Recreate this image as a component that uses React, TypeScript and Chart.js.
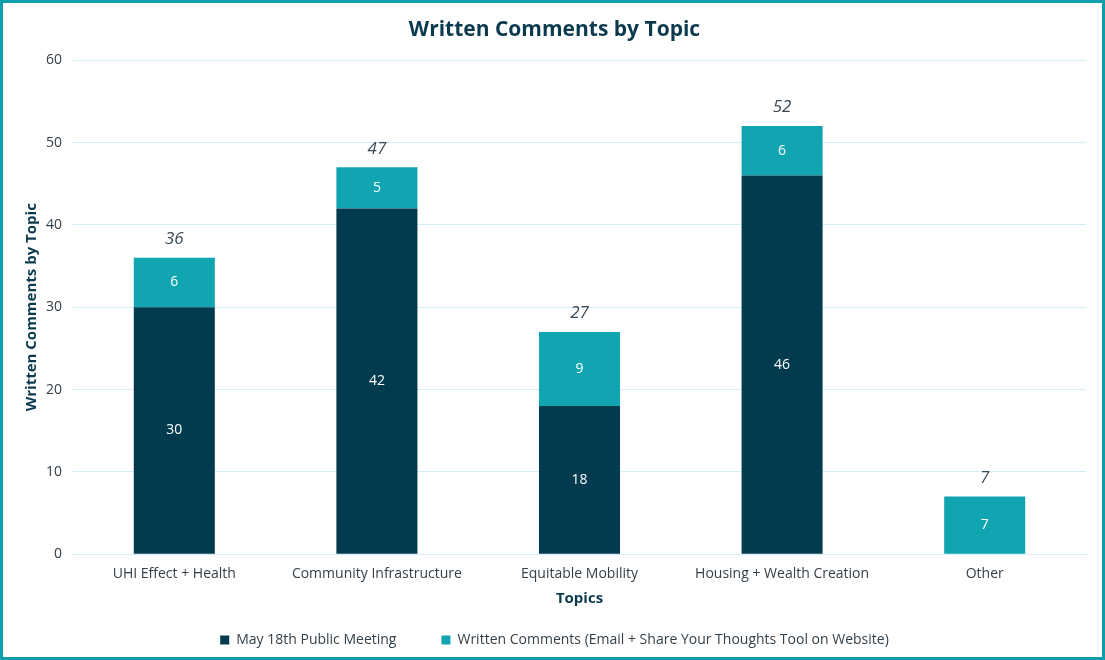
import React, { useEffect, useRef } from "react";
import { Chart, registerables } from "chart.js";

Chart.register(...registerables);

const categories = [
  "UHI Effect + Health",
  "Community Infrastructure",
  "Equitable Mobility",
  "Housing + Wealth Creation",
  "Other",
];
const meetingValues = [30, 42, 18, 46, 0];
const writtenValues = [6, 5, 9, 6, 7];
const totals = [36, 47, 27, 52, 7];
const yTicks = [0, 10, 20, 30, 40, 50, 60];

const DARK = "#023b4f";
const TEAL = "#11a4b1";
const FONT = "'Open Sans', sans-serif";
const LEGEND_SHRINK = 20;

const labelPlugin = {
  id: "barLabels",
  afterInit(chart: any) {
    const lg = chart.legend;
    if (!lg) return;
    const origFit = lg.fit.bind(lg);
    lg.fit = function () {
      origFit();
      this.height -= LEGEND_SHRINK;
    };
    const origDraw = lg.draw.bind(lg);
    lg.draw = function () {
      this.top -= LEGEND_SHRINK;
      origDraw();
      this.top += LEGEND_SHRINK;
    };
  },
  afterDatasetsDraw(chart: any) {
    const ctx = chart.ctx;
    ctx.save();
    ctx.textAlign = "center";
    ctx.textBaseline = "middle";
    chart.data.datasets.forEach((ds: any, di: number) => {
      const meta = chart.getDatasetMeta(di);
      meta.data.forEach((bar: any, i: number) => {
        const v = ds.data[i];
        if (!v) return;
        ctx.fillStyle = "#ffffff";
        ctx.font = `14px ${FONT}`;
        ctx.fillText(String(v), bar.x, (bar.y + bar.base) / 2);
      });
    });
    const yScale = chart.scales.y;
    const xScale = chart.scales.x;
    ctx.fillStyle = "#3a4a56";
    ctx.font = `italic 17px ${FONT}`;
    ctx.textBaseline = "bottom";
    totals.forEach((t, i) => {
      const x = xScale.getPixelForValue(i);
      const y = yScale.getPixelForValue(t);
      ctx.fillText(String(t), x, y - 10);
    });
    ctx.restore();
  },
};

export default function App() {
  const ref = useRef<HTMLCanvasElement | null>(null);
  useEffect(() => {
    if (!ref.current) return;
    const chart = new Chart(ref.current, {
      type: "bar",
      data: {
        labels: categories,
        datasets: [
          {
            label: "May 18th Public Meeting",
            data: meetingValues,
            backgroundColor: DARK,
            categoryPercentage: 0.8,
            barPercentage: 0.5,
          },
          {
            label: "Written Comments (Email + Share Your Thoughts Tool on Website)",
            data: writtenValues,
            backgroundColor: TEAL,
            categoryPercentage: 0.8,
            barPercentage: 0.5,
          },
        ],
      },
      options: {
        animation: false,
        responsive: false,
        maintainAspectRatio: false,
        layout: { padding: { left: 20, right: 16, top: 6, bottom: 0 } },
        plugins: {
          title: {
            display: true,
            text: "Written Comments by Topic",
            color: "#0b3a4f",
            font: { family: FONT, size: 21, weight: "bold" },
            padding: { top: 8, bottom: 18 },
          },
          legend: {
            position: "bottom",
            labels: {
              color: "#333f48",
              font: { family: FONT, size: 14 },
              boxWidth: 9,
              boxHeight: 9,
              padding: 45,
            },
          },
          tooltip: { enabled: false },
        },
        scales: {
          x: {
            stacked: true,
            grid: { display: false, drawTicks: false },
            border: { display: true, color: "#d3eef6" },
            ticks: { color: "#333f48", font: { family: FONT, size: 14 }, padding: 11 },
            title: {
              display: true,
              text: "Topics",
              color: "#0b3a4f",
              font: { family: FONT, size: 15, weight: "bold" },
              padding: { top: -3, bottom: 0 },
            },
          },
          y: {
            stacked: true,
            min: 0,
            max: 60,
            afterBuildTicks(scale: any) {
              scale.ticks = yTicks.map((v) => ({ value: v }));
            },
            grid: { color: "#d3eef6", drawTicks: false },
            border: { display: false },
            ticks: { color: "#333f48", font: { family: FONT, size: 14 }, padding: 11 },
            title: {
              display: true,
              text: "Written Comments by Topic",
              color: "#0b3a4f",
              font: { family: FONT, size: 15, weight: "bold" },
              padding: { top: 0, bottom: -6 },
            },
          },
        },
      },
      plugins: [labelPlugin],
    });
    return () => chart.destroy();
  }, []);
  return (
    <div
      style={{
        position: "fixed",
        left: 0,
        top: 0,
        width: 1105,
        height: 660,
        boxSizing: "border-box",
        border: "3px solid #0f9faa",
        background: "#ffffff",
      }}
    >
      <canvas ref={ref} width={1099} height={654} style={{ display: "block" }} />
    </div>
  );
}
